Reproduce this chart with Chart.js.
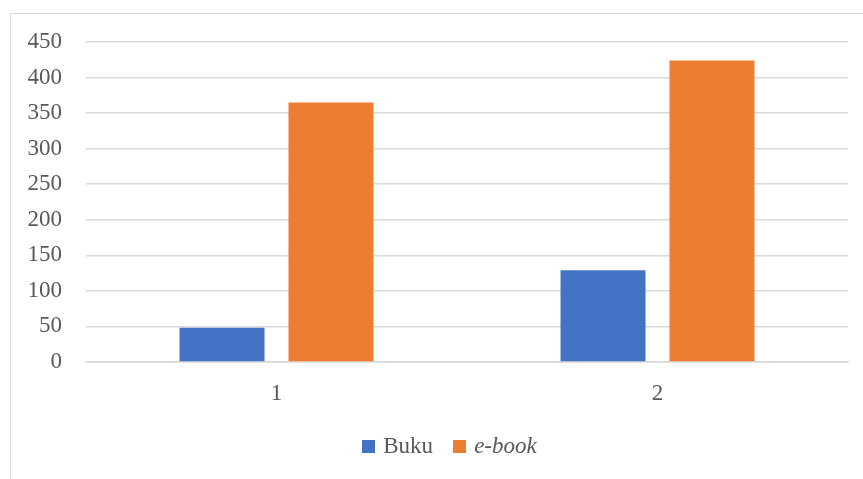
<!DOCTYPE html>
<html>
<head>
<meta charset="utf-8">
<script src="https://cdn.jsdelivr.net/npm/chart.js@4/dist/chart.umd.min.js"></script>
<style>
  html, body { margin: 0; padding: 0; background: #fff; }
  #wrap { position: relative; width: 863px; height: 479px; overflow: hidden; }
  #frame { position: absolute; left: 10px; top: 13px; width: 900px; height: 500px;
           border: 1.5px solid #d9d9d9; box-sizing: border-box; }
  #cv { position: absolute; left: 0; top: 0; }
  #legend { position: absolute; left: 18px; width: 863px; top: 433px; display: flex;
            justify-content: center; gap: 20px; font-family: 'Liberation Serif', serif;
            font-size: 23px; color: #595959; }
  #legend .item { display: flex; align-items: center; }
  #legend .sw { width: 13px; height: 13px; margin-right: 8px; }
</style>
</head>
<body>
<div id="wrap">
  <div id="frame"></div>
  <canvas id="cv" width="863" height="479"></canvas>
  <div id="legend"></div>
</div>
<script>
const CATEGORIES = ['1', '2'];
const BUKU = [48, 129];
const EBOOK = [365, 424];
const SERIES_NAMES = ['Buku', 'e-book'];
const COLORS = ['#4472C4', '#ED7D31'];

const FONT = { family: "'Liberation Serif', serif", size: 23 };

const ctx = document.getElementById('cv').getContext('2d');
const chart = new Chart(ctx, {
  type: 'bar',
  data: {
    labels: CATEGORIES,
    datasets: [
      { label: SERIES_NAMES[0], data: BUKU, backgroundColor: COLORS[0] },
      { label: SERIES_NAMES[1], data: EBOOK, backgroundColor: COLORS[1] }
    ]
  },
  options: {
    responsive: false,
    animation: false,
    datasets: { bar: { categoryPercentage: 0.572, barPercentage: 0.78 } },
    layout: { padding: { top: 42, right: 15, left: 0, bottom: 0 } },
    plugins: { legend: { display: false }, tooltip: { enabled: false } },
    scales: {
      x: {
        grid: { display: false, drawTicks: false },
        border: { display: true, color: '#d9d9d9', width: 1.5 },
        ticks: { color: '#595959', font: FONT, padding: 18 },
        afterFit(s) { s.height = 117; }
      },
      y: {
        min: 0, max: 450,
        ticks: { stepSize: 50, color: '#595959', font: FONT, padding: 24 },
        grid: { color: '#d9d9d9', lineWidth: 1.5, drawTicks: false },
        border: { display: false },
        afterFit(s) { s.width = 86; }
      }
    }
  }
});

// legenda HTML (serve il corsivo su e-book)
const leg = document.getElementById('legend');
SERIES_NAMES.forEach((name, i) => {
  const it = document.createElement('div');
  it.className = 'item';
  const sw = document.createElement('span');
  sw.className = 'sw';
  sw.style.background = COLORS[i];
  const tx = document.createElement('span');
  tx.textContent = name;
  if (i === 1) tx.style.fontStyle = 'italic';
  it.appendChild(sw); it.appendChild(tx);
  leg.appendChild(it);
});
</script>
</body>
</html>
